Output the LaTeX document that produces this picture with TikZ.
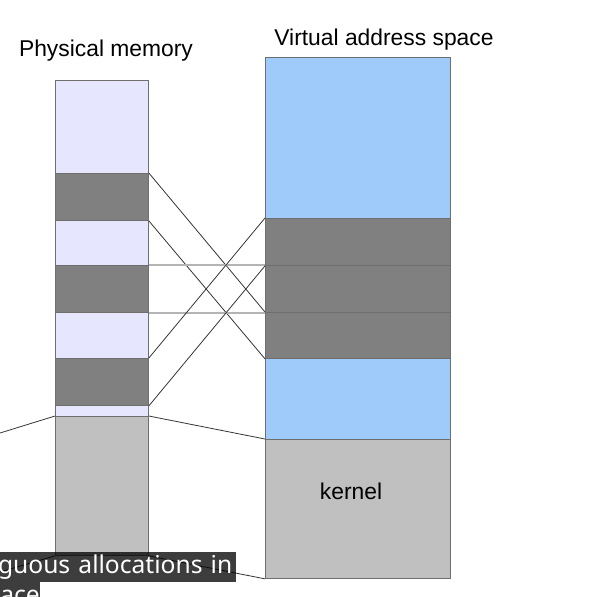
\documentclass[tikz,border=0pt]{standalone}
\usepackage{fontspec}
\setmainfont{Liberation Sans}
\newfontfamily\capfont{Noto Sans}
\usepackage{tikz}
\usetikzlibrary{positioning}

\definecolor{lavender}{HTML}{E6E6FF}
\definecolor{used}{HTML}{808080}
\definecolor{vblue}{HTML}{9FCBFB}
\definecolor{kgray}{HTML}{C0C0C0}
\definecolor{segline}{HTML}{6E6E6E}
\definecolor{mapline}{HTML}{333333}
\definecolor{flatline}{HTML}{B4B4B4}

\begin{document}
\begin{tikzpicture}[
  x=0.02cm, y=-0.02cm,
  seg/.style={draw=segline, line width=0.5pt, anchor=north west, inner sep=0pt},
  phys/.style={seg, minimum width=1.86cm},
  virt/.style={seg, minimum width=3.7cm},
  map/.style={draw=mapline, line width=0.45pt},
  flat/.style={draw=flatline, line width=0.8pt},
  title/.style={font=\fontsize{13}{15}\selectfont},
  caption/.style={fill=black, fill opacity=0.76, text opacity=1, text=white, anchor=north west,
    inner sep=0pt, font=\capfont\fontsize{14}{16}\selectfont}
]
\useasboundingbox (0,0) rectangle (608,596);
\clip (0,0) rectangle (608,596);

% physical memory
\node[phys, fill=lavender, minimum height=1.86cm] (pf1) at (55,80) {};
\node[phys, fill=used, minimum height=0.94cm] (pd1) at (55,173) {};
\node[phys, fill=lavender, minimum height=0.9cm] (pf2) at (55,220) {};
\node[phys, fill=used, minimum height=0.94cm] (pd2) at (55,265) {};
\node[phys, fill=lavender, minimum height=0.92cm] (pf3) at (55,312) {};
\node[phys, fill=used, minimum height=0.94cm] (pd3) at (55,358) {};
\node[phys, fill=lavender, minimum height=0.22cm] (pf4) at (55,405) {};
\node[phys, fill=kgray, minimum height=2.78cm] (pk) at (55,416) {};
\node[title] (ptitle) at (106,51) {Physical memory};

% virtual address space
\node[virt, fill=vblue, minimum height=3.22cm] (vf1) at (265,57) {};
\node[virt, fill=used, minimum height=0.94cm] (vd1) at (265,218) {};
\node[virt, fill=used, minimum height=0.94cm] (vd2) at (265,265) {};
\node[virt, fill=used, minimum height=0.92cm] (vd3) at (265,312) {};
\node[virt, fill=vblue, minimum height=1.62cm] (vf2) at (265,358) {};
\node[virt, fill=kgray, minimum height=2.78cm] (vk) at (265,439) {};
\node[title] (vtitle) at (384,40) {Virtual address space};
\node[title] (klabel) at (351,491) {kernel};

% mappings
\draw[map] (pd1.north east) -- (vd3.north west);
\draw[map] (pd1.south east) -- (vd3.south west);
\draw[flat] (pd2.north east) -- (vd2.north west);
\draw[flat] (pd2.south east) -- (vd2.south west);
\draw[map] (pd3.north east) -- (vd1.north west);
\draw[map] (pd3.south east) -- (vd1.south west);
\draw[map] (pk.north east) -- (vk.north west);
\draw[map] (pk.south east) -- (vk.south west);

\coordinate (offtop) at (0,433);
\coordinate (offbot) at (0,572);
\draw[map] (pk.north west) -- (offtop);
\draw[map] (pk.south west) -- (offbot);

% caption overlay
\node[caption, minimum width=4.72cm, minimum height=0.6cm, text width=4.6cm, align=left] (cap1) at (0,552) {\hspace{-3pt}guous allocations in};
\node[caption, minimum width=0.8cm, minimum height=0.6cm, text width=0.8cm, align=left] (cap2) at (0,582) {\raisebox{-6pt}{ace}};
\end{tikzpicture}
\end{document}
